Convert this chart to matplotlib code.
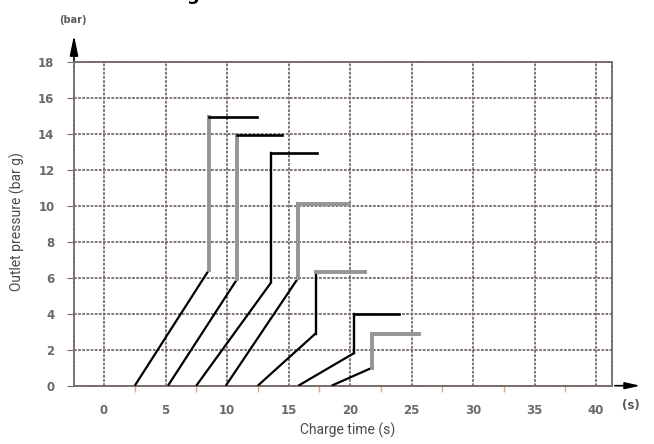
import matplotlib
matplotlib.use('Agg')
import matplotlib.pyplot as plt
import numpy as np

# each charging curve: start on time axis, knee, top pressure, end of plateau
start_t = [2.5, 5.2, 7.5, 9.9, 12.5, 15.8, 18.5]
knee_t = [8.5, 10.8, 13.6, 15.8, 17.2, 20.3, 21.8]
knee_p = [6.4, 5.9, 5.75, 6.0, 2.9, 1.8, 1.0]
top_p = [14.9, 13.9, 12.9, 10.1, 6.3, 4.0, 2.9]
end_t = [12.4, 14.5, 17.3, 19.9, 21.2, 24.0, 25.6]

# which parts are drawn in the thick grey pen
rise_grey = [True, True, False, True, False, False, True]
top_grey = [False, False, False, True, True, False, True]

x_ticks = [0, 5, 10, 15, 20, 25, 30, 35, 40]
y_ticks = [0, 2, 4, 6, 8, 10, 12, 14, 16, 18]

W, H = 654, 444
fig = plt.figure(figsize=(W / 100, H / 100), dpi=100)
ax = fig.add_axes([74 / W, 1 - 385.7 / H, (612 - 74) / W, (385.7 - 61.7) / H])

grid_col = '#766a66'
tick_col = '#6a6a6a'

ax.set_xlim(-2.44, 41.3)
ax.set_ylim(0, 18)
ax.set_xticks(x_ticks)
ax.set_yticks(y_ticks)
ax.set_xticks(np.arange(2.5, 40, 5), minor=True)
ax.grid(True, which='major', color=grid_col, linestyle=(0, (1.5, 0.8)), linewidth=1.3)
for s in ax.spines.values():
    s.set_color(grid_col)
    s.set_linestyle((0, (1.5, 0.8)))
    s.set_linewidth(1.3)

ax.tick_params(axis='y', length=5, color=grid_col, pad=9, labelsize=8.5,
               labelcolor=tick_col)
ax.tick_params(axis='x', which='major', length=0, pad=13, labelsize=8.5,
               labelcolor=tick_col)
ax.tick_params(axis='x', which='minor', length=4, color='#e2a586', width=1)
for lab in ax.get_xticklabels() + ax.get_yticklabels():
    lab.set_fontweight('bold')

grey = '#959595'
for i in range(len(start_t)):
    ax.plot([start_t[i], knee_t[i]], [0, knee_p[i]], color='black', lw=1.6,
            solid_capstyle='butt', zorder=3)
    if rise_grey[i]:
        ax.plot([knee_t[i], knee_t[i]], [knee_p[i], top_p[i]], color=grey, lw=2.8, zorder=3)
    else:
        ax.plot([knee_t[i], knee_t[i]], [knee_p[i], top_p[i]], color='black', lw=1.7, zorder=3)
    if top_grey[i]:
        ax.plot([knee_t[i], end_t[i]], [top_p[i], top_p[i]], color=grey, lw=2.8, zorder=3)
    else:
        ax.plot([knee_t[i], end_t[i]], [top_p[i], top_p[i]], color='black', lw=1.9, zorder=3)

# axis arrows
ax.annotate('', xy=(0, 1.09), xytext=(0, 0.995), xycoords='axes fraction',
            arrowprops=dict(arrowstyle='-|>,head_length=1.2,head_width=0.25',
                            color='black', lw=1.2))
ax.annotate('', xy=(1.058, 0), xytext=(1.0, 0), xycoords='axes fraction',
            arrowprops=dict(arrowstyle='-|>,head_length=0.9,head_width=0.2',
                            color='black', lw=1.2))

fig.text(73 / W, 1 - 20 / H, '(bar)', ha='center', va='center', fontsize=7,
         color='#5a5a5a', fontweight='bold')
fig.text(631 / W, 1 - 405 / H, '(s)', ha='center', va='center', fontsize=8.5,
         color='#5a5a5a', fontweight='bold')
fig.text(17 / W, 1 - 222 / H, 'Outlet pressure (bar g)', rotation=90,
         ha='center', va='center', fontsize=10, color='#4a4a4a',
         family='Roboto')
fig.text(348 / W, 1 - 430 / H, 'Charge time (s)', ha='center', va='center',
         fontsize=10, color='#4a4a4a', family='Roboto')
# bottom of the heading that is cut off above the chart
fig.text(193 / W, 1.0, 'g', ha='center', va='baseline', fontsize=13,
         fontweight='bold', color='black')

fig.savefig('out.png', dpi=100)
